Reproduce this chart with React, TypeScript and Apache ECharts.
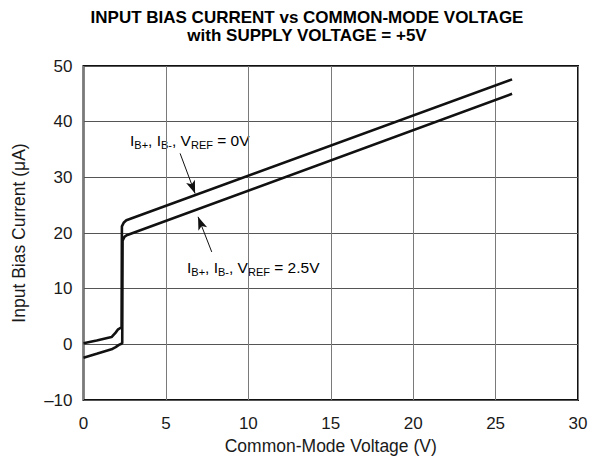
import React, { useEffect, useRef } from "react";
import * as echarts from "echarts";

const titleLines = ["INPUT BIAS CURRENT vs COMMON-MODE VOLTAGE", "with SUPPLY VOLTAGE = +5V"];
const xAxisName = "Common-Mode Voltage (V)";
const yAxisName = "Input Bias Current (\u03BCA)";

// Curve for V_REF = 0V (upper)
const vref0X = [0, 0.8, 1.7, 1.95, 2.1, 2.25, 2.31, 2.33, 2.45, 2.6, 26];
const vref0Y = [0.2, 0.7, 1.3, 2.1, 2.7, 2.95, 3.0, 21.2, 21.9, 22.3, 47.6];

// Curve for V_REF = 2.5V (lower)
const vref25X = [0, 0.8, 1.7, 1.95, 2.15, 2.3, 2.35, 2.37, 2.48, 2.62, 26];
const vref25Y = [-2.4, -1.7, -0.9, -0.5, -0.1, 0.1, 0.2, 18.6, 19.3, 19.6, 45.0];

// Annotation arrows (data coords): [fromX, fromY, toX, toY]
const arrow0 = [5.86, 34.3, 6.77, 27.1];
const arrow25 = [7.78, 16.6, 6.95, 22.9];

const label0 = "{n|I}{s|B+}{n|, I}{s|B-}{n|, V}{s|REF}{n| = 0V}";
const label25 = "{n|I}{s|B+}{n|, I}{s|B-}{n|, V}{s|REF}{n| = 2.5V}";

const FONT = "Liberation Sans, Arial, Helvetica, sans-serif";

export default function App() {
  const ref = useRef<HTMLDivElement>(null);
  useEffect(() => {
    if (!ref.current) return;
    const chart = echarts.init(ref.current, undefined, { renderer: "svg" });
    const rich = {
      n: { fontSize: 15.5, fontFamily: FONT, color: "#1a1a1a", lineHeight: 18, verticalAlign: "top" },
      s: { fontSize: 11, fontFamily: FONT, color: "#1a1a1a", lineHeight: 12, verticalAlign: "bottom", padding: [9, 0, 0, 0] },
    };
    const mkArrow = (a: number[]) => [
      { coord: [a[0], a[1]], symbol: "none" },
      { coord: [a[2], a[3]], symbol: "arrow" },
    ];
    chart.setOption({
      animation: false,
      backgroundColor: "#ffffff",
      title: [
        {
          text: titleLines.join("\n"),
          left: 302,
          top: 3,
          textAlign: "center",
          textStyle: { fontFamily: FONT, fontSize: 17, fontWeight: "bold", color: "#000", lineHeight: 18 },
        },
      ],
      grid: {
        left: 83.5,
        right: 25,
        top: 66,
        bottom: 64,
        show: true,
        borderColor: "#111",
        borderWidth: 2,
        containLabel: false,
      },
      xAxis: {
        type: "value",
        min: 0,
        max: 30,
        interval: 5,
        name: xAxisName,
        nameLocation: "middle",
        nameGap: 37,
        nameTextStyle: { fontFamily: FONT, fontSize: 17.5, color: "#1a1a1a" },
        axisLine: { show: false },
        axisTick: { show: false },
        axisLabel: { fontFamily: FONT, fontSize: 17, color: "#1a1a1a", margin: 15 },
        splitLine: { show: true, lineStyle: { color: "#7a7a7a", width: 1 } },
      },
      yAxis: {
        type: "value",
        min: -10,
        max: 50,
        interval: 10,
        name: yAxisName,
        nameLocation: "middle",
        nameGap: 56,
        nameTextStyle: { fontFamily: FONT, fontSize: 17.5, color: "#1a1a1a" },
        axisLine: { show: false },
        axisTick: { show: false },
        axisLabel: {
          fontFamily: FONT,
          fontSize: 17,
          color: "#1a1a1a",
          margin: 11,
          formatter: (v: number) => String(v).replace("-", "\u2013"),
        },
        splitLine: { show: true, lineStyle: { color: "#555", width: 1 } },
      },
      graphic: [
        {
          type: "text",
          left: 130,
          top: 130,
          style: { text: label0, rich },
        },
        {
          type: "text",
          left: 187,
          top: 257,
          style: { text: label25, rich },
        },
      ],
      series: [
        {
          type: "line",
          data: vref0X.map((x, i) => [x, vref0Y[i]]),
          showSymbol: false,
          symbol: "none",
          lineStyle: { color: "#111", width: 2.6 },
          z: 5,
          markLine: {
            silent: true,
            symbol: ["none", "arrow"],
            symbolSize: [7, 13],
            label: { show: false },
            lineStyle: { color: "#111", width: 1, type: "solid" },
            data: [mkArrow(arrow0), mkArrow(arrow25)],
          },
        },
        {
          type: "line",
          data: vref25X.map((x, i) => [x, vref25Y[i]]),
          showSymbol: false,
          symbol: "none",
          lineStyle: { color: "#111", width: 2.6 },
          z: 5,
        },
      ],
    });
    return () => chart.dispose();
  }, []);
  return <div ref={ref} style={{ width: 603, height: 464, marginLeft: -8, marginTop: -8 }} />;
}
